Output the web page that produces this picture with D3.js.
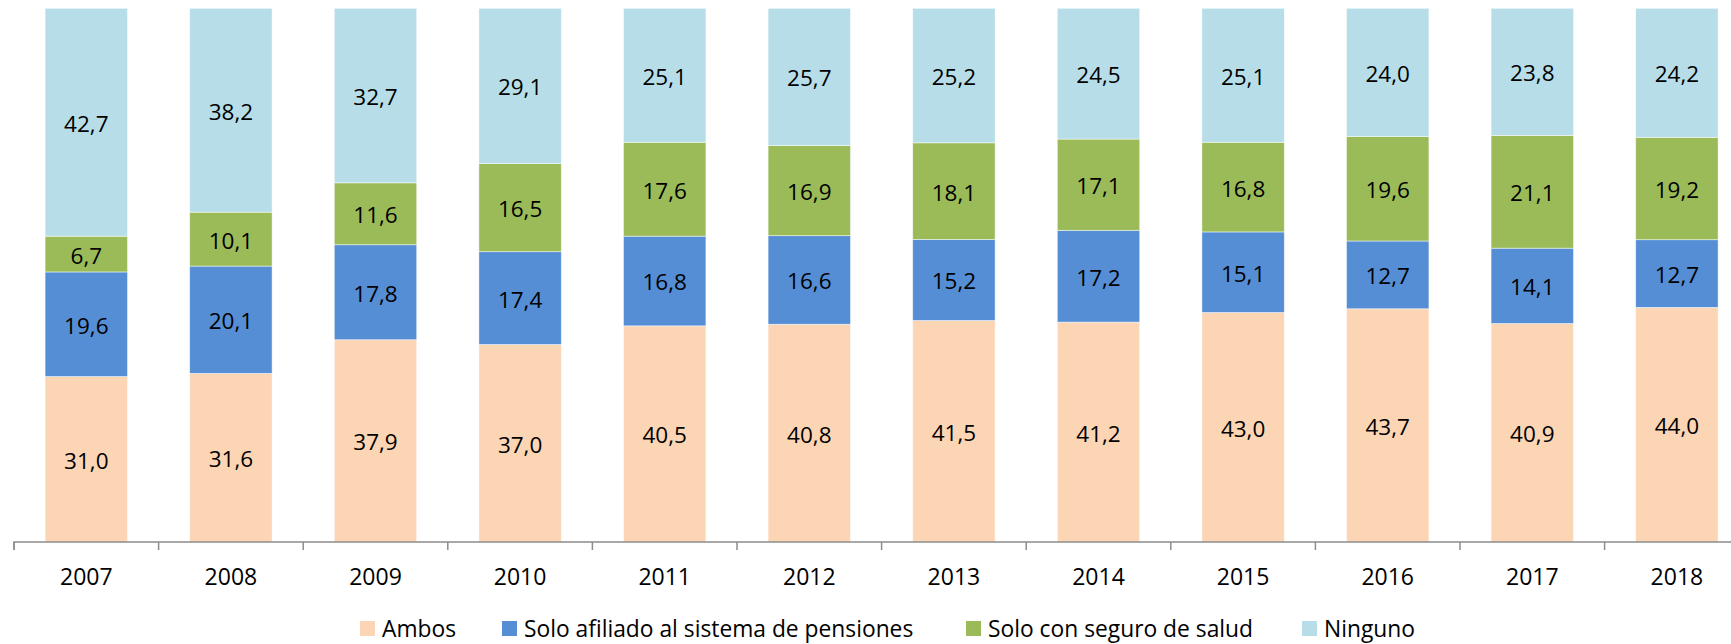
<!DOCTYPE html>
<html>
<head>
<meta charset="utf-8">
<script src="https://cdn.jsdelivr.net/npm/d3@7"></script>
<style>
  html, body { margin: 0; padding: 0; background: #fff; }
  svg { display: block; }
  text { font-family: "Open Sans", "Noto Sans", sans-serif; fill: #000; }
</style>
</head>
<body>
<svg id="chart" width="1731" height="644"></svg>
<script>
const years = ["2007","2008","2009","2010","2011","2012","2013","2014","2015","2016","2017","2018"];
const seriesNames = ["Ambos", "Solo afiliado al sistema de pensiones", "Solo con seguro de salud", "Ninguno"];
const ambos     = [31.0, 31.6, 37.9, 37.0, 40.5, 40.8, 41.5, 41.2, 43.0, 43.7, 40.9, 44.0];
const pensiones = [19.6, 20.1, 17.8, 17.4, 16.8, 16.6, 15.2, 17.2, 15.1, 12.7, 14.1, 12.7];
const salud     = [6.7, 10.1, 11.6, 16.5, 17.6, 16.9, 18.1, 17.1, 16.8, 19.6, 21.1, 19.2];
const ninguno   = [42.7, 38.2, 32.7, 29.1, 25.1, 25.7, 25.2, 24.5, 25.1, 24.0, 23.8, 24.2];
const colors = ["#FCD5B5", "#558ED5", "#9BBB59", "#B7DEE8"];

const seriesArrays = [ambos, pensiones, salud, ninguno];
const rows = years.map((y, i) => {
  const r = { year: y };
  seriesNames.forEach((s, k) => r[s] = seriesArrays[k][i]);
  return r;
});

const svg = d3.select("#chart");
const axisY = 542, topY = 8.3;
const x0 = 14, step = 144.6;

const x = d3.scaleBand()
  .domain(years)
  .range([x0, x0 + step * years.length])
  .paddingInner(0.43)
  .paddingOuter(0.215);

const y = d3.scaleLinear().domain([0, 1]).range([axisY, topY]);
const color = d3.scaleOrdinal().domain(seriesNames).range(colors);

const stack = d3.stack().keys(seriesNames).offset(d3.stackOffsetExpand);
const stacked = stack(rows);

const g = svg.append("g");
const layers = g.selectAll("g.layer").data(stacked).join("g")
  .attr("class", "layer")
  .attr("fill", d => color(d.key));

layers.selectAll("rect").data(d => d).join("rect")
  .attr("x", d => x(d.data.year))
  .attr("width", x.bandwidth())
  .attr("y", d => y(d[1]))
  .attr("height", d => y(d[0]) - y(d[1]))
  .attr("stroke", "#ffffff")
  .attr("stroke-opacity", 0.6)
  .attr("stroke-width", 0.8);

// data labels
const fmt = v => v.toFixed(1).replace(".", ",");
stacked.forEach((layer, k) => {
  g.append("g").selectAll("text").data(layer).join("text")
    .attr("x", d => x(d.data.year) + x.bandwidth() / 2)
    .attr("y", d => (y(d[0]) + y(d[1])) / 2)
    .attr("dy", "0.42em")
    .attr("text-anchor", "middle")
    .style("font-size", "22.5px")
    .text(d => fmt(d.data[layer.key]));
});

// x axis
const axis = d3.axisBottom(x).tickSize(0).tickPadding(0);
const ax = svg.append("g").attr("transform", `translate(0,${axisY})`).call(axis);
ax.select(".domain").attr("stroke", "#8C8C8C").attr("stroke-width", 1.5)
  .attr("d", `M${x0},8V0H${x0 + step * years.length}`);
ax.selectAll(".tick text")
  .attr("y", 43)
  .attr("dy", 0)
  .style("font-size", "23px")
  .style("font-family", "'Open Sans', sans-serif")
  .attr("fill", "#000");

// boundary ticks
const bounds = d3.range(years.length + 1).map(i => x0 + i * step);
ax.selectAll("line.bt").data(bounds).join("line")
  .attr("class", "bt")
  .attr("x1", d => d).attr("x2", d => d)
  .attr("y1", 0).attr("y2", 8)
  .attr("stroke", "#8C8C8C").attr("stroke-width", 1.5);

// legend
const legendX = [360, 502, 966, 1302];
const legend = svg.append("g").attr("transform", "translate(0,621)");
const items = legend.selectAll("g").data(seriesNames).join("g")
  .attr("transform", (d, i) => `translate(${legendX[i]},0)`);
items.append("rect").attr("width", 15).attr("height", 15).attr("fill", d => color(d));
items.append("text").attr("x", 22).attr("y", 15.5)
  .style("font-size", "22.8px")
  .text(d => d);
</script>
</body>
</html>
